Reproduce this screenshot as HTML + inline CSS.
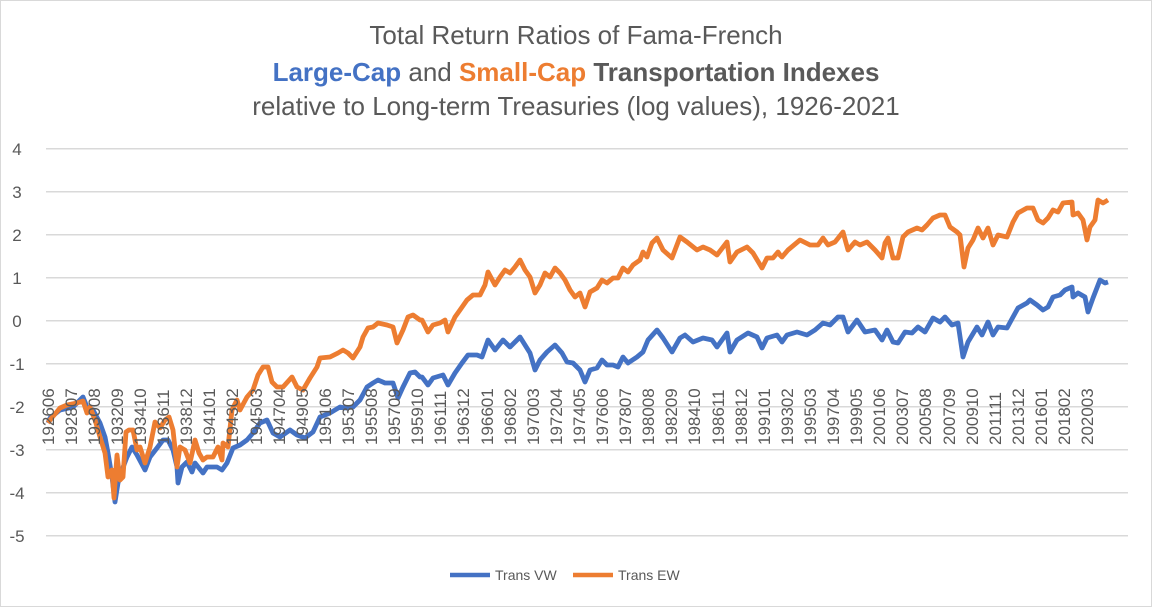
<!DOCTYPE html>
<html><head><meta charset="utf-8"><style>
html,body{margin:0;padding:0;background:#fff}
svg{display:block}
text{font-family:"Liberation Sans",sans-serif;fill:#595959}
</style></head><body>
<svg width="1152" height="607" viewBox="0 0 1152 607">
<rect x="0.5" y="0.5" width="1151" height="606" fill="#fff" stroke="#d9d9d9"/>
<g text-anchor="middle" font-size="26">
<text x="576" y="44">Total Return Ratios of Fama-French</text>
<text x="576" y="81"><tspan font-weight="bold" style="fill:#4472C4">Large-Cap</tspan> and <tspan font-weight="bold" style="fill:#ED7D31">Small-Cap</tspan> <tspan font-weight="bold">Transportation Indexes</tspan></text>
<text x="576" y="115">relative to Long-term Treasuries (log values), 1926-2021</text>
</g>
<g stroke="#d9d9d9" stroke-width="1.5">
<line x1="46" x2="1128" y1="148.7" y2="148.7"/><line x1="46" x2="1128" y1="191.7" y2="191.7"/>
<line x1="46" x2="1128" y1="234.7" y2="234.7"/><line x1="46" x2="1128" y1="277.7" y2="277.7"/>
<line x1="46" x2="1128" y1="320.7" y2="320.7"/><line x1="46" x2="1128" y1="363.7" y2="363.7"/>
<line x1="46" x2="1128" y1="406.7" y2="406.7"/><line x1="46" x2="1128" y1="449.7" y2="449.7"/>
<line x1="46" x2="1128" y1="492.7" y2="492.7"/><line x1="46" x2="1128" y1="535.7" y2="535.7"/>
</g>
<g font-size="17" text-anchor="middle">
<text x="17" y="155">4</text><text x="17" y="198">3</text><text x="17" y="241">2</text><text x="17" y="284">1</text><text x="17" y="327">0</text>
<text x="17" y="370">-1</text><text x="17" y="413">-2</text><text x="17" y="456">-3</text><text x="17" y="499">-4</text><text x="17" y="542">-5</text>
</g>
<polyline fill="none" stroke="#4472C4" stroke-width="4.8" stroke-linejoin="round" points="48,423 50,418 60,410 73,407 83,397 87,407 93,410 100,423 105,437 108,453 112,477 115,502 118,483 122,470 127,457 132,447 137,455 145,470 150,457 157,448 163,440 168,440 173,450 177,467 178,483 182,467 187,462 192,472 195,463 203,473 207,467 217,467 222,470 227,463 233,448 240,445 247,440 253,433 260,423 267,420 273,433 280,437 290,430 297,435 305,438 313,432 320,417 330,413 340,407 345,408 353,407 360,400 367,387 373,383 378,380 385,383 393,383 398,398 403,387 410,373 415,372 420,377 422,377 428,385 433,378 443,375 448,385 455,373 462,363 468,355 477,355 482,357 488,340 495,350 503,340 510,347 517,340 520,337 525,345 530,353 535,370 540,360 547,352 555,345 562,353 567,362 573,363 580,370 585,382 590,370 597,368 602,360 607,365 613,365 618,367 623,357 628,363 637,357 643,352 648,340 657,330 663,338 672,352 680,338 685,335 693,342 703,338 712,340 717,347 727,333 730,352 737,340 748,333 757,337 762,348 767,338 777,335 782,342 787,335 797,332 807,335 815,330 823,323 830,325 838,317 843,317 848,332 857,320 865,332 875,330 882,340 887,330 893,342 898,343 905,332 912,333 918,327 925,332 933,318 940,322 945,317 952,325 958,323 963,357 968,342 977,327 982,335 988,322 993,335 998,327 1007,328 1013,317 1018,308 1027,303 1030,300 1037,305 1043,310 1048,307 1053,297 1060,295 1065,290 1072,287 1073,297 1078,293 1085,297 1088,312 1093,298 1100,280 1105,283 1108,282"/>
<polyline fill="none" stroke="#ED7D31" stroke-width="4.8" stroke-linejoin="round" points="48,423 50,420 60,408 67,405 77,403 83,401 87,413 90,407 95,420 100,437 105,453 108,477 112,470 114,498 117,455 120,480 123,477 126,432 129,430 133,430 137,450 140,447 145,463 150,447 155,422 160,428 165,420 169,417 173,430 177,467 180,447 185,450 190,463 195,440 199,453 203,460 207,457 213,457 218,447 222,460 223,443 228,447 232,410 237,400 240,410 247,397 253,390 258,375 263,367 268,367 272,382 277,387 283,387 292,377 297,387 303,390 310,378 317,367 320,358 330,357 338,353 343,350 348,353 353,358 360,347 363,337 368,328 373,327 378,323 387,325 393,327 397,343 403,330 408,317 413,315 420,320 422,320 428,332 433,325 440,323 445,320 448,332 455,317 460,310 467,300 473,295 480,295 485,285 488,272 495,285 500,277 505,270 510,273 515,267 520,260 525,270 530,277 535,293 540,285 545,273 550,277 555,268 560,273 565,280 570,290 575,297 580,293 585,307 590,292 597,288 602,280 607,283 613,278 618,278 623,268 628,272 633,265 640,260 643,252 647,257 652,243 657,238 663,250 672,258 680,237 687,242 697,250 703,247 710,250 717,255 727,242 730,262 737,252 747,247 753,253 762,268 767,258 773,258 778,252 780,255 782,257 788,250 800,240 810,245 818,245 823,238 828,245 835,242 843,232 848,250 855,242 860,245 867,242 875,250 882,258 885,243 888,238 893,258 898,258 903,237 908,232 917,228 922,230 927,225 933,218 940,215 945,215 950,227 957,232 960,235 964,267 968,248 973,240 978,228 983,238 988,228 993,245 998,235 1007,237 1013,222 1018,213 1027,208 1033,208 1038,220 1043,223 1048,218 1053,210 1058,212 1063,203 1072,202 1073,215 1078,213 1083,220 1087,240 1090,227 1095,220 1098,200 1103,203 1108,200"/>
<g font-size="17" text-anchor="start">
<text transform="translate(54,445) rotate(-90)">192606</text>
<text transform="translate(77,445) rotate(-90)">192807</text>
<text transform="translate(100,445) rotate(-90)">193008</text>
<text transform="translate(123,445) rotate(-90)">193209</text>
<text transform="translate(146,445) rotate(-90)">193410</text>
<text transform="translate(169,445) rotate(-90)">193611</text>
<text transform="translate(192,445) rotate(-90)">193812</text>
<text transform="translate(215,445) rotate(-90)">194101</text>
<text transform="translate(238,445) rotate(-90)">194302</text>
<text transform="translate(262,445) rotate(-90)">194503</text>
<text transform="translate(285,445) rotate(-90)">194704</text>
<text transform="translate(308,445) rotate(-90)">194905</text>
<text transform="translate(331,445) rotate(-90)">195106</text>
<text transform="translate(354,445) rotate(-90)">195307</text>
<text transform="translate(377,445) rotate(-90)">195508</text>
<text transform="translate(400,445) rotate(-90)">195709</text>
<text transform="translate(423,445) rotate(-90)">195910</text>
<text transform="translate(446,445) rotate(-90)">196111</text>
<text transform="translate(469,445) rotate(-90)">196312</text>
<text transform="translate(493,445) rotate(-90)">196601</text>
<text transform="translate(516,445) rotate(-90)">196802</text>
<text transform="translate(539,445) rotate(-90)">197003</text>
<text transform="translate(562,445) rotate(-90)">197204</text>
<text transform="translate(585,445) rotate(-90)">197405</text>
<text transform="translate(608,445) rotate(-90)">197606</text>
<text transform="translate(631,445) rotate(-90)">197807</text>
<text transform="translate(654,445) rotate(-90)">198008</text>
<text transform="translate(677,445) rotate(-90)">198209</text>
<text transform="translate(700,445) rotate(-90)">198410</text>
<text transform="translate(724,445) rotate(-90)">198611</text>
<text transform="translate(747,445) rotate(-90)">198812</text>
<text transform="translate(770,445) rotate(-90)">199101</text>
<text transform="translate(793,445) rotate(-90)">199302</text>
<text transform="translate(816,445) rotate(-90)">199503</text>
<text transform="translate(839,445) rotate(-90)">199704</text>
<text transform="translate(862,445) rotate(-90)">199905</text>
<text transform="translate(885,445) rotate(-90)">200106</text>
<text transform="translate(908,445) rotate(-90)">200307</text>
<text transform="translate(931,445) rotate(-90)">200508</text>
<text transform="translate(955,445) rotate(-90)">200709</text>
<text transform="translate(978,445) rotate(-90)">200910</text>
<text transform="translate(1001,445) rotate(-90)">201111</text>
<text transform="translate(1024,445) rotate(-90)">201312</text>
<text transform="translate(1047,445) rotate(-90)">201601</text>
<text transform="translate(1070,445) rotate(-90)">201802</text>
<text transform="translate(1093,445) rotate(-90)">202003</text>
</g>
<line x1="450" x2="490" y1="575" y2="575" stroke="#4472C4" stroke-width="4.5"/>
<text x="495" y="580" font-size="14">Trans VW</text>
<line x1="573" x2="613" y1="575" y2="575" stroke="#ED7D31" stroke-width="4.5"/>
<text x="618" y="580" font-size="14">Trans EW</text>
</svg>
</body></html>
